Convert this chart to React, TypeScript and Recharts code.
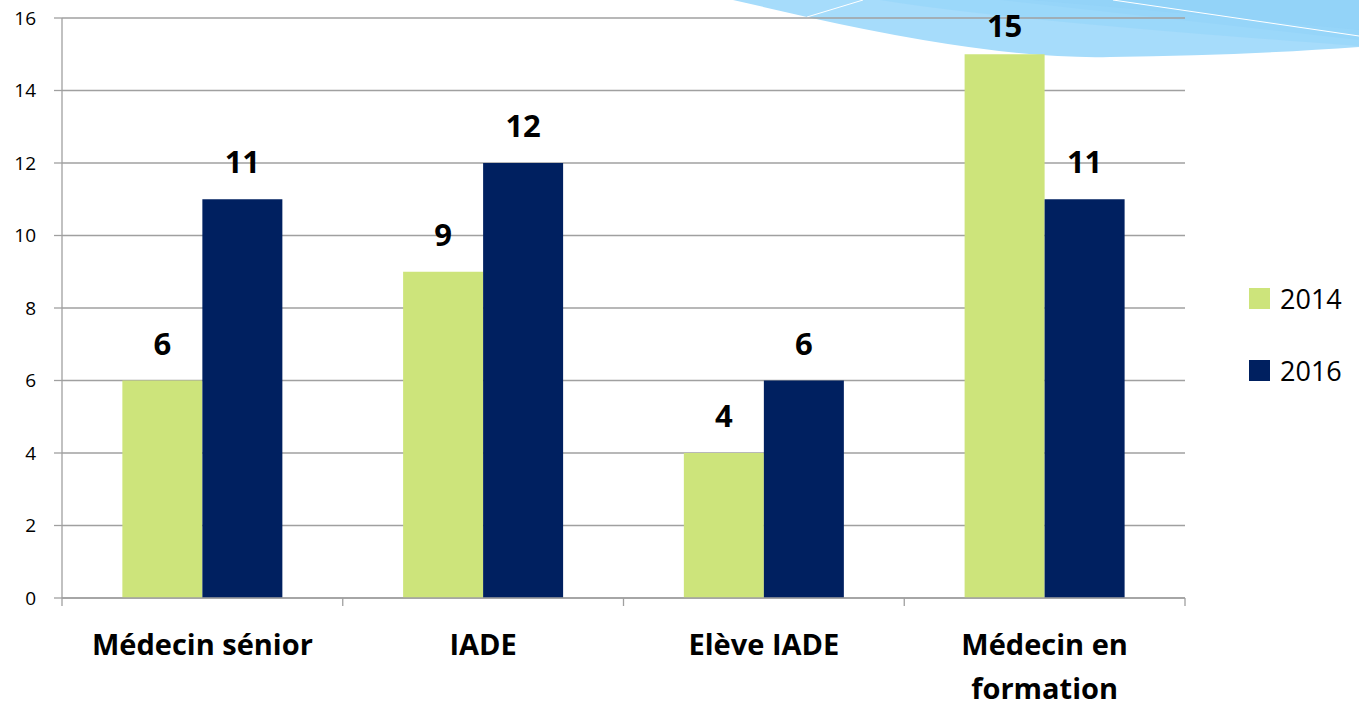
import React from "react";
import { BarChart, Bar, XAxis, YAxis, CartesianGrid, LabelList } from "recharts";

const categories = ["Médecin sénior", "IADE", "Elève IADE", "Médecin en\nformation"];
const values2014 = [6, 9, 4, 15];
const values2016 = [11, 12, 6, 11];
const yTicks = [0, 2, 4, 6, 8, 10, 12, 14, 16];
const seriesNames = ["2014", "2016"];
const seriesColors = ["#CDE47B", "#002060"];

const data = categories.map((c, i) => ({ name: c, s2014: values2014[i], s2016: values2016[i] }));

const FONT = "'Open Sans', 'Noto Sans', sans-serif";
const AXIS_GRAY = "#a0a0a0";

const CatTick = (props: any) => {
  const { x, y, payload, index } = props;
  const half = payload && typeof payload.offset === "number" ? payload.offset : 0;
  const lines = String(payload.value).split("\n");
  return (
    <g>
      <line x1={x - half} y1={y} x2={x - half} y2={y + 8} stroke={AXIS_GRAY} strokeWidth={1.3} />
      {index === categories.length - 1 ? (
        <line x1={x + half} y1={y} x2={x + half} y2={y + 8} stroke={AXIS_GRAY} strokeWidth={1.3} />
      ) : null}
      <text x={x} y={y} textAnchor="middle" fontFamily={FONT} fontWeight={700} fontSize={29} fill="#000">
        {lines.map((l, i) => (
          <tspan key={i} x={x} dy={i === 0 ? 57 : 44}>
            {l}
          </tspan>
        ))}
      </text>
    </g>
  );
};

const ValueLabel = (props: any) => {
  const { x, y, width, value } = props;
  const baseline = Math.max(y - 26, 37);
  return (
    <text x={x + width / 2} y={baseline} textAnchor="middle" fontFamily={FONT} fontWeight={700} fontSize={31} fill="#000">
      {value}
    </text>
  );
};

export default function App() {
  return (
    <div style={{ position: "absolute", left: 0, top: 0, width: 1359, height: 706, background: "#fff", overflow: "hidden" }}>
      <svg width={1359} height={706} style={{ position: "absolute", left: 0, top: 0 }}>
        <path d="M733,0 L807,17 Q1000,60 1110,57 Q1250,55 1359,47 L1359,0 Z" fill="#A6DCFB" />
        <path d="M1000,0 L1359,40 L1359,0 Z" fill="#8FD1F8" opacity={0.8} />
        <path d="M880,0 Q1000,20 1359,46 L1359,30 Q1150,10 1030,0 Z" fill="#97D5F9" opacity={0.7} />
        <path d="M807,17 L863,0" stroke="#fff" strokeWidth={1} fill="none" />
        <path d="M1113,0 L1359,36" stroke="#fff" strokeWidth={1} fill="none" />
      </svg>
      <div style={{ position: "absolute", left: 0, top: 0 }}>
        <BarChart
          width={1359}
          height={706}
          data={data}
          margin={{ top: 18, right: 174, bottom: 0, left: 0 }}
          barCategoryGap="21.5%"
          barGap={0}
        >
          <CartesianGrid vertical={false} stroke={AXIS_GRAY} strokeWidth={1.3} />
          <XAxis
            dataKey="name"
            axisLine={{ stroke: AXIS_GRAY, strokeWidth: 1.3 }}
            tickLine={false}
            tickSize={0}
            tickMargin={0}
            tick={<CatTick />}
            height={108}
            interval={0}
          />
          <YAxis
            domain={[0, 16]}
            ticks={yTicks}
            width={62}
            tickSize={8}
            tickMargin={18}
            axisLine={{ stroke: AXIS_GRAY, strokeWidth: 1.3 }}
            tickLine={{ stroke: AXIS_GRAY, strokeWidth: 1.3 }}
            tick={{ fontFamily: FONT, fontSize: 19, fill: "#000" }}
          />
          <Bar dataKey="s2014" fill={seriesColors[0]} isAnimationActive={false}>
            <LabelList dataKey="s2014" content={<ValueLabel />} />
          </Bar>
          <Bar dataKey="s2016" fill={seriesColors[1]} isAnimationActive={false}>
            <LabelList dataKey="s2016" content={<ValueLabel />} />
          </Bar>
        </BarChart>
      </div>
      <div style={{ position: "absolute", left: 1249, top: 280, fontFamily: FONT, fontSize: 27, color: "#000" }}>
        {seriesNames.map((n, i) => (
          <div key={n} style={{ display: "flex", alignItems: "center", height: 36, marginBottom: 36 }}>
            <div style={{ width: 21, height: 21, background: seriesColors[i], marginRight: 10 }} />
            <span>{n}</span>
          </div>
        ))}
      </div>
    </div>
  );
}
